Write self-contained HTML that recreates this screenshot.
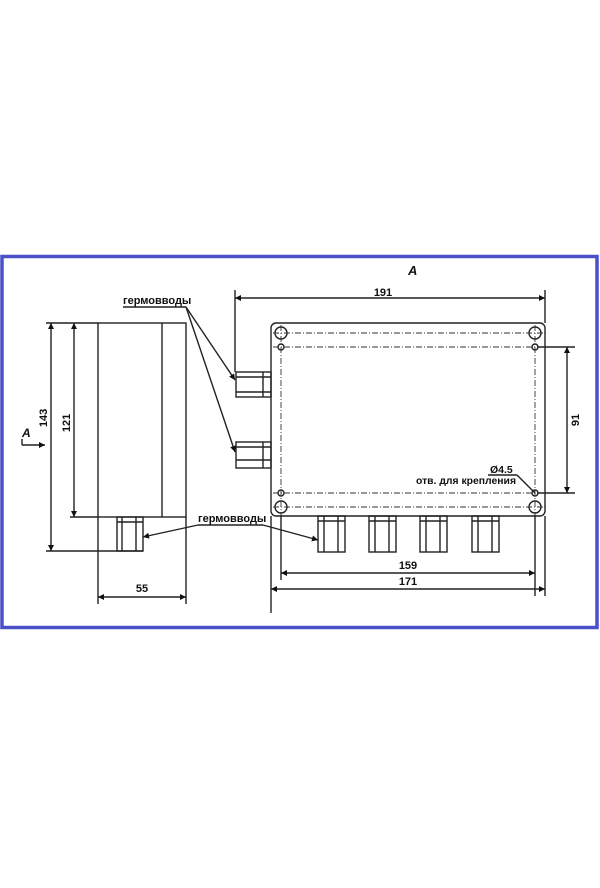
<!DOCTYPE html>
<html><head><meta charset="utf-8"><style>
html,body{margin:0;padding:0;background:#fff;}
svg{display:block;}
text{font-family:"Liberation Sans","DejaVu Sans",sans-serif;font-weight:bold;fill:#111;}
</style></head><body>
<svg width="600" height="888" viewBox="0 0 600 888" xmlns="http://www.w3.org/2000/svg">
<defs>
<marker id="a" viewBox="0 0 10 10" refX="10" refY="5" markerWidth="8" markerHeight="6" orient="auto-start-reverse" markerUnits="userSpaceOnUse"><path d="M0,0 L10,5 L0,10 z" fill="#111"/></marker>
</defs>
<rect x="2" y="256.5" width="595" height="371" fill="none" stroke="#4a50c8" stroke-width="3.5"/>
<g stroke="#222" stroke-width="1.4" fill="none">
<rect x="98" y="323" width="88" height="194"/>
<line x1="162" y1="323" x2="162" y2="517"/>
<rect x="117" y="517" width="26" height="34"/>
<line x1="122" y1="517" x2="122" y2="551"/><line x1="136" y1="517" x2="136" y2="551"/>
<line x1="117" y1="522" x2="143" y2="522"/>
<line x1="46" y1="323" x2="98" y2="323"/>
<line x1="70" y1="517" x2="98" y2="517"/>
<line x1="46" y1="551" x2="143" y2="551"/>
<line x1="51" y1="323" x2="51" y2="551" marker-start="url(#a)" marker-end="url(#a)"/>
<line x1="74" y1="323" x2="74" y2="517" marker-start="url(#a)" marker-end="url(#a)"/>
<line x1="98" y1="517" x2="98" y2="604"/>
<line x1="186" y1="517" x2="186" y2="604"/>
<line x1="98" y1="597" x2="186" y2="597" marker-start="url(#a)" marker-end="url(#a)"/>
<line x1="22" y1="445" x2="45" y2="445" marker-end="url(#a)"/>
<line x1="22" y1="439" x2="22" y2="445"/>
<rect x="271" y="323" width="274" height="193" rx="5"/>
<circle cx="281" cy="333" r="6"/><circle cx="535" cy="333" r="6"/>
<circle cx="281" cy="507" r="6"/><circle cx="535" cy="507" r="6"/>
<circle cx="281" cy="347" r="3"/><circle cx="535" cy="347" r="3"/>
<circle cx="281" cy="493" r="3"/><circle cx="535" cy="493" r="3"/>
</g>
<g stroke="#333" stroke-width="0.9" stroke-dasharray="6,2,1,2" fill="none">
<line x1="273" y1="333" x2="548" y2="333"/>
<line x1="273" y1="347" x2="548" y2="347"/>
<line x1="273" y1="493" x2="548" y2="493"/>
<line x1="273" y1="507" x2="548" y2="507"/>
<line x1="281" y1="325" x2="281" y2="515"/>
<line x1="535" y1="325" x2="535" y2="515"/>
</g>
<g stroke="#222" stroke-width="1.4" fill="none">
<rect x="236" y="372" width="35" height="25"/>
<line x1="236" y1="377" x2="271" y2="377"/><line x1="236" y1="392" x2="271" y2="392"/><line x1="263" y1="372" x2="263" y2="397"/>
<rect x="236" y="442" width="35" height="26"/>
<line x1="236" y1="447" x2="271" y2="447"/><line x1="236" y1="460" x2="271" y2="460"/><line x1="263" y1="442" x2="263" y2="468"/>
<g id="g"><rect x="318" y="516" width="27" height="36"/><line x1="318" y1="521" x2="345" y2="521"/><line x1="324" y1="516" x2="324" y2="552"/><line x1="338" y1="516" x2="338" y2="552"/></g>
<use href="#g" x="51"/><use href="#g" x="102"/><use href="#g" x="154"/>
<line x1="235" y1="290" x2="235" y2="372"/>
<line x1="545" y1="290" x2="545" y2="323"/>
<line x1="235" y1="298" x2="545" y2="298" marker-start="url(#a)" marker-end="url(#a)"/>
<line x1="281" y1="515" x2="281" y2="580"/>
<line x1="535" y1="515" x2="535" y2="596"/>
<line x1="271" y1="516" x2="271" y2="613"/>
<line x1="545" y1="516" x2="545" y2="596"/>
<line x1="281" y1="573" x2="535" y2="573" marker-start="url(#a)" marker-end="url(#a)"/>
<line x1="271" y1="589" x2="545" y2="589" marker-start="url(#a)" marker-end="url(#a)"/>
<line x1="538" y1="347" x2="575" y2="347"/>
<line x1="538" y1="493" x2="575" y2="493"/>
<line x1="567" y1="347" x2="567" y2="493" marker-start="url(#a)" marker-end="url(#a)"/>
<line x1="123" y1="307" x2="186" y2="307"/>
<line x1="186" y1="307" x2="235" y2="380" marker-end="url(#a)"/>
<line x1="186" y1="307" x2="235" y2="452" marker-end="url(#a)"/>
<line x1="198" y1="525" x2="263" y2="525"/>
<line x1="198" y1="525" x2="143" y2="537" marker-end="url(#a)"/>
<line x1="263" y1="525" x2="318" y2="540" marker-end="url(#a)"/>
<line x1="488" y1="475" x2="517" y2="475"/>
<line x1="517" y1="475" x2="535" y2="493"/>
</g>
<g font-size="11">
<text x="123" y="304">гермовводы</text>
<text x="198" y="522">гермовводы</text>
<text x="383" y="296" text-anchor="middle">191</text>
<text x="408" y="275" font-style="italic" font-size="13">A</text>
<text x="22" y="437" font-style="italic" font-size="12">A</text>
<text x="0" y="0" transform="translate(47,418) rotate(-90)" text-anchor="middle">143</text>
<text x="0" y="0" transform="translate(70,423) rotate(-90)" text-anchor="middle">121</text>
<text x="0" y="0" transform="translate(579,420) rotate(-90)" text-anchor="middle">91</text>
<text x="142" y="592" text-anchor="middle">55</text>
<text x="408" y="569" text-anchor="middle">159</text>
<text x="408" y="585" text-anchor="middle">171</text>
<text x="490" y="473" font-size="10.5">Ø4.5</text>
<text x="416" y="484" font-size="10.5" textLength="100" lengthAdjust="spacingAndGlyphs">отв. для крепления</text>
</g>
</svg>
</body></html>
